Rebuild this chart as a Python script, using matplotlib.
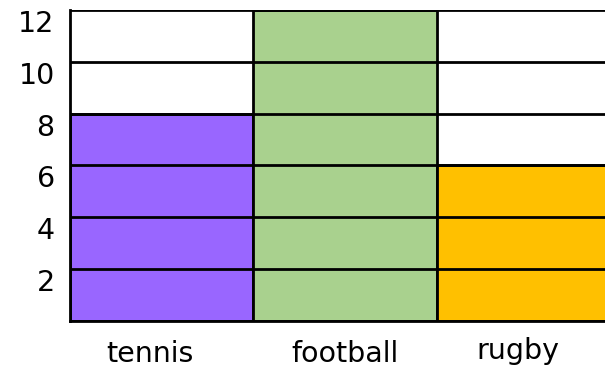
import matplotlib.pyplot as plt
import matplotlib.transforms as mtransforms

# Data
sports = ['tennis', 'football', 'rugby']
counts = [8, 12, 6]
colors = ['#9966FF', '#A9D18E', '#FFC000']
y_ticks = [2, 4, 6, 8, 10, 12]

fig = plt.figure(figsize=(6.05, 3.67), dpi=100)
ax = fig.add_axes([0.1157, 0.1253, 0.9093, 0.8475])

x = list(range(len(sports)))
ax.bar(x, counts, width=1.0, color=colors, edgecolor='black', linewidth=2, zorder=2)

ax.set_xlim(-0.5, 2.5)
ax.set_ylim(0, 12)
ax.set_yticks(y_ticks)
ax.set_xticks(x)
ax.set_xticklabels(sports)

# Horizontal grid on top of the bars
ax.yaxis.grid(True, color='black', linewidth=2, zorder=3)
ax.set_axisbelow(False)

for side in ['top', 'right']:
    ax.spines[side].set_visible(False)
for side in ['left', 'bottom']:
    ax.spines[side].set_linewidth(2)
    ax.spines[side].set_zorder(4)

ax.tick_params(axis='both', length=0, labelsize=20.5)
ax.tick_params(axis='y', pad=11)
ax.tick_params(axis='x', pad=14)

# Small nudges of the labels as in the reference
for lbl in ax.get_yticklabels():
    lbl.set_transform(lbl.get_transform() +
                      mtransforms.ScaledTranslation(0, -0.11, fig.dpi_scale_trans))

offsets = [(-12, 0), (0, 0), (-11, 3)]
for lbl, (dx, dy) in zip(ax.get_xticklabels(), offsets):
    lbl.set_transform(lbl.get_transform() +
                      mtransforms.ScaledTranslation(dx / 100, dy / 100, fig.dpi_scale_trans))

fig.savefig('out.png', dpi=100)
